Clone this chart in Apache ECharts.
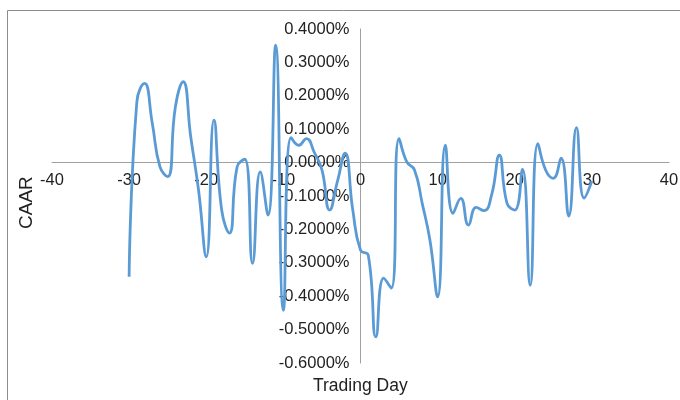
<!DOCTYPE html>
<html>
<head>
<meta charset="utf-8">
<script src="https://cdn.jsdelivr.net/npm/echarts@6/dist/echarts.min.js"></script>
<style>html,body{margin:0;padding:0;background:#fff;}#chart{width:680px;height:400px;}</style>
</head>
<body>
<div id="chart"></div>
<script>
const tradingDays = [-30,-29,-28,-27,-26,-25,-24,-23,-22,-21,-20,-19,-18,-17,-16,-15,-14,-13,-12,-11,-10,-9,-8,-7,-6,-5,-4,-3,-2,-1,0,1,2,3,4,5,6,7,8,9,10,11,12,13,14,15,16,17,18,19,20,21,22,23,24,25,26,27,28,29,30];
const caarPct = [-0.342,0.182,0.237,0.118,-0.013,-0.042,0.167,0.242,0.075,-0.082,-0.282,0.127,-0.142,-0.211,-0.013,0.010,-0.302,-0.028,-0.157,0.352,-0.442,0.075,0.052,0.072,0.031,-0.022,-0.142,-0.057,0.028,-0.142,-0.262,-0.277,-0.522,-0.346,-0.376,0.072,0.002,-0.022,-0.122,-0.232,-0.402,0.052,-0.152,-0.107,-0.187,-0.134,-0.144,-0.097,0.022,-0.122,-0.142,-0.020,-0.367,0.057,-0.022,-0.047,0.013,-0.160,0.105,-0.106,-0.055];
const xTitle = 'Trading Day';
const yTitle = 'CAAR';

const G = {left: 52, right: 11, top: 29, bottom: 37};
const W = 680, H = 400;
const gw = W - G.left - G.right, gh = H - G.top - G.bottom;
const xMin = -40, xMax = 40, yMin = -0.6, yMax = 0.4;
// offsets that move each axis onto the other axis's zero
const xAxisOffset = -(gh * (0 - yMin) / (yMax - yMin));
const yAxisOffset = -(gw * (0 - xMin) / (xMax - xMin));

const chart = echarts.init(document.getElementById('chart'), null, {renderer:'canvas'});
const font = '"Liberation Sans", Arial, sans-serif';
chart.setOption({
  animation: false,
  backgroundColor: '#fff',
  grid: Object.assign({containLabel: false, outerBoundsMode: 'none'}, G),
  graphic: [
    {type:'line', shape:{x1:7.5, y1:10.5, x2:7.5, y2:400}, style:{stroke:'#8c8c8c', lineWidth:1}},
    {type:'line', shape:{x1:7.5, y1:10.5, x2:680, y2:10.5}, style:{stroke:'#8c8c8c', lineWidth:1}},
    {type:'text', left: 313, top: 377, style:{text: xTitle, font: '17.5px ' + font, fill:'#222'}},
    {type:'text', rotation: Math.PI/2, x: 17, y: 229, style:{text: yTitle, font: '19px ' + font, fill:'#222'}}
  ],
  xAxis: {
    type: 'value', min: xMin, max: xMax, interval: 10, position: 'bottom', offset: xAxisOffset,
    axisLine: {onZero: false, lineStyle: {color: '#a0a0a0', width: 1}},
    axisTick: {show: false},
    splitLine: {show: false},
    axisLabel: {margin: 9, fontSize: 16.5, fontFamily: font, color: '#222', showMinLabel: true, showMaxLabel: true}
  },
  yAxis: {
    type: 'value', min: yMin, max: yMax, interval: 0.1, position: 'left', offset: yAxisOffset,
    axisLine: {show: true, onZero: false, lineStyle: {color: '#a0a0a0', width: 1}},
    axisTick: {show: false},
    splitLine: {show: false},
    axisLabel: {margin: 11, fontSize: 16.5, fontFamily: font, color: '#222',
      formatter: v => (Math.abs(v) < 1e-9 ? 0 : v).toFixed(4) + '%'}
  },
  series: [{
    type: 'line',
    data: tradingDays.map((d, i) => [d, caarPct[i]]),
    smooth: 0.5,
    showSymbol: false,
    lineStyle: {color: '#5B9BD5', width: 2.8},
    z: 3
  }]
});
</script>
</body>
</html>
